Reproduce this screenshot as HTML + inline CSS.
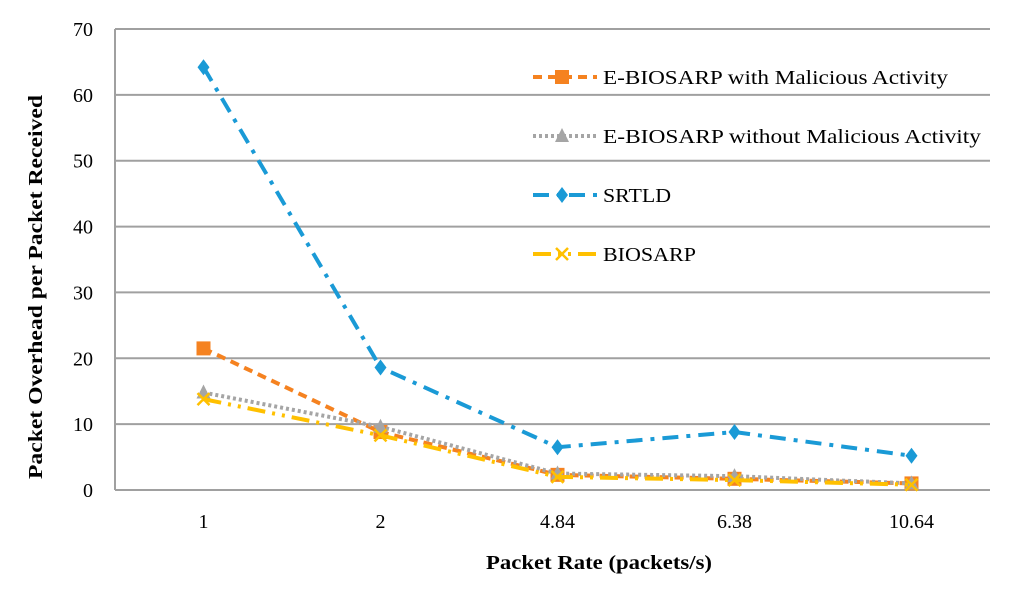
<!DOCTYPE html>
<html><head><meta charset="utf-8"><style>
body{margin:0;background:#fff;}
svg text{font-family:"Liberation Serif",serif;fill:#000;}
</style></head><body>
<svg id="c" width="1024" height="590" xmlns="http://www.w3.org/2000/svg"></svg>
<script>
const categories=["1","2","4.84","6.38","10.64"];
const yTicks=[0,10,20,30,40,50,60,70];
const seriesNames=["E-BIOSARP with Malicious Activity","E-BIOSARP without Malicious Activity","SRTLD","BIOSARP"];
const malicious=[21.5,8.8,2.3,1.7,1.0];
const withoutMal=[14.8,9.6,2.5,2.1,1.0];
const srtld=[64.2,18.6,6.5,8.8,5.2];
const biosarp=[13.8,8.3,2.0,1.5,0.8];

const NS="http://www.w3.org/2000/svg";
const svg=document.getElementById('c');
const L=115,R=990,T=29,B=490;
const band=177;
const x=i=>L+band*(i+0.5);
const y=v=>B-(v/70)*(B-T);
function mk(t,a,p){const e=document.createElementNS(NS,t);for(const k in a)e.setAttribute(k,a[k]);(p||svg).appendChild(e);return e;}

yTicks.forEach(v=>{
  const g=mk('line',{x1:L,x2:R,y1:y(v),y2:y(v),stroke:'#a0a0a0','stroke-width':2});
  
  
  const t=mk('text',{x:93,y:y(v)+7,'text-anchor':'end','font-size':20});
  t.textContent=v;
  
  
});
const ax=mk('line',{x1:L,x2:L,y1:T,y2:B,stroke:'#a0a0a0','stroke-width':2});

categories.forEach((c,i)=>{
  const t=mk('text',{x:x(i),y:528,'text-anchor':'middle','font-size':20});
  t.textContent=c;
  
  
});
const xt=mk('text',{x:599,y:569,'text-anchor':'middle','font-size':20,'font-weight':'bold',textLength:226,lengthAdjust:'spacingAndGlyphs'});
xt.textContent='Packet Rate (packets/s)';

const yt=mk('text',{x:0,y:0,'text-anchor':'middle','font-size':20,'font-weight':'bold',transform:'translate(42,287) rotate(-90)',textLength:384,lengthAdjust:'spacingAndGlyphs'});
yt.textContent='Packet Overhead per Packet Received';


function marker(kind,cx,cy,color,g){
  if(kind==='sq')return mk('rect',{x:cx-7,y:cy-7,width:14,height:14,fill:color},g);
  if(kind==='tri')return mk('polygon',{points:`${cx},${cy-8} ${cx+7},${cy+6} ${cx-7},${cy+6}`,fill:color},g);
  if(kind==='dia')return mk('polygon',{points:`${cx},${cy-8} ${cx+6},${cy} ${cx},${cy+8} ${cx-6},${cy}`,fill:color},g);
  return mk('path',{d:`M${cx-6},${cy-6}L${cx+6},${cy+6}M${cx+6},${cy-6}L${cx-6},${cy+6}`,stroke:color,'stroke-width':2.5,fill:'none'},g);
}
const defs=[
 {data:malicious,color:'#f58220',dash:'9,6',mk:'sq',name:'series-malicious'},
 {data:withoutMal,color:'#a5a5a5',dash:'3,3',mk:'tri',name:'series-without-malicious'},
 {data:srtld,color:'#1a9ad6',dash:'16,8,4,8',mk:'dia',name:'series-srtld'},
 {data:biosarp,color:'#ffc000',dash:'18,7,3,7,3,7',mk:'x',name:'series-biosarp'}
];
[2,0,1,3].forEach(si=>{
  const s=defs[si];
  const g=mk('g',{});
  
  
  const pl=mk('polyline',{points:s.data.map((v,i)=>x(i)+','+y(v)).join(' '),fill:'none',stroke:s.color,'stroke-width':4,'stroke-dasharray':s.dash},g);
  
  
  s.data.forEach((v,i)=>{
    const m=marker(s.mk,x(i),y(v),s.color,g);
    
    
  });
});
const ly=[77,136,195,254];
const lw=[345,378,68,93];
seriesNames.forEach((n,k)=>{
  const s=defs[k];
  const g=mk('g',{});
  
  
  mk('line',{x1:533,x2:597,y1:ly[k],y2:ly[k],stroke:s.color,'stroke-width':4,'stroke-dasharray':s.dash},g);
  marker(s.mk,562,ly[k],s.color,g);
  const t=mk('text',{x:603,y:ly[k]+7,'font-size':20,textLength:lw[k],lengthAdjust:'spacingAndGlyphs'},g);
  t.textContent=n;
});
</script>
</body></html>
